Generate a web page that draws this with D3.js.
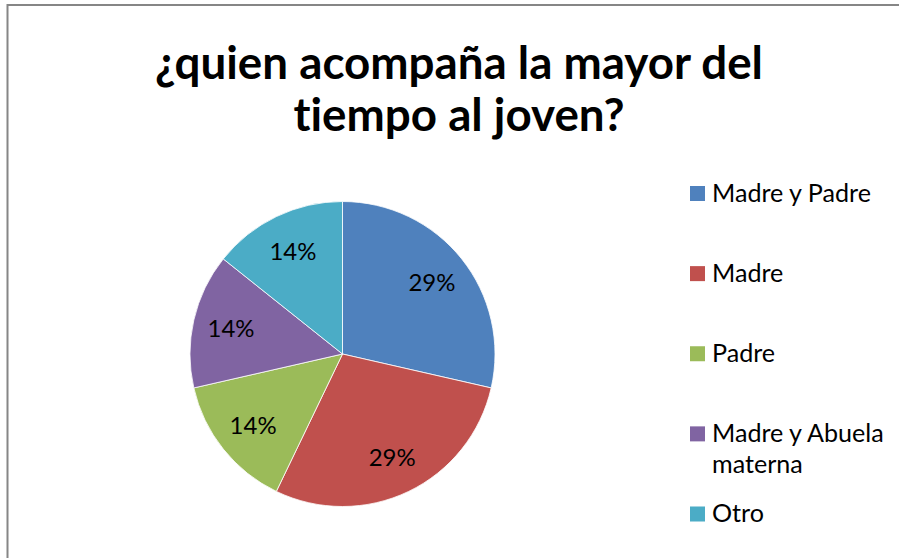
<!DOCTYPE html>
<html>
<head>
<meta charset="utf-8">
<script src="https://cdn.jsdelivr.net/npm/d3@7"></script>
<style>
  html, body { margin: 0; padding: 0; background: #fff; }
  svg { display: block; font-family: Lato, "Open Sans", sans-serif; font-variant-ligatures: none; }
</style>
</head>
<body>
<svg id="chart" width="899" height="558"></svg>
<script>
// data (2 + 2 + 1 + 1 + 1 = 7 answers)
const categories = ["Madre y Padre", "Madre", "Padre", "Madre y Abuela materna", "Otro"];
const legendLines = [["Madre y Padre"], ["Madre"], ["Padre"], ["Madre y Abuela", "materna"], ["Otro"]];
const counts = [2, 2, 1, 1, 1];
const colors = ["#4F81BD", "#C0504D", "#9BBB59", "#8064A2", "#4BACC6"];
const titleLines = ["¿quien acompaña la mayor del", "tiempo al joven?"];

const width = 899, height = 558;
const cx = 342.5, cy = 354, radius = 152.5;

const svg = d3.select("#chart");

// shrink/grow text so it spans the given width
function fitFont(sel, target) {
    sel.style("font-size", "100px");
    const w = sel.node().getComputedTextLength();
    sel.style("font-size", (100 * target / w) + "px");
}

// chart frame (only left and top edges show)
svg.append("rect")
    .attr("x", 7.5)
    .attr("y", 5)
    .attr("width", 905)
    .attr("height", 570)
    .attr("fill", "none")
    .attr("stroke", "#868686")
    .attr("stroke-width", 2);

// title
const title = svg.append("g");
title.selectAll("text")
    .data(titleLines)
    .join("text")
    .attr("x", 459)
    .attr("y", (d, i) => 79 + i * 52)
    .attr("text-anchor", "middle")
    .attr("font-weight", "bold")
    .attr("fill", "#000")
    .text(d => d)
    .each(function (d, i) {
        if (i == 0) fitFont(d3.select(this), 608);
    });
const titleSize = title.select("text").style("font-size");
title.selectAll("text").style("font-size", titleSize);

// pie
const color = d3.scaleOrdinal().domain(categories).range(colors);
const total = d3.sum(counts);
const pie = d3.pie().sort(null).value(d => d.v);
const arcs = pie(categories.map((c, i) => ({ c: c, v: counts[i] })));

const arc = d3.arc().innerRadius(0).outerRadius(radius);
const labelArc = d3.arc().innerRadius(radius * 0.75).outerRadius(radius * 0.75);
const pct = d3.format(".0%");

const g = svg.append("g").attr("transform", `translate(${cx},${cy})`);

g.selectAll("path")
    .data(arcs)
    .join("path")
    .attr("d", arc)
    .attr("fill", d => color(d.data.c))
    .attr("stroke", "#fff")
    .attr("stroke-width", 0.8);

const labels = g.selectAll("text")
    .data(arcs)
    .join("text")
    .attr("transform", d => `translate(${labelArc.centroid(d)})`)
    .attr("text-anchor", "middle")
    .attr("dy", "0.36em")
    .attr("fill", "#000")
    .text(d => pct(d.data.v / total));
fitFont(labels.filter((d, i) => i == 0), 47);
labels.style("font-size", labels.filter((d, i) => i == 0).style("font-size"));

// legend
const ly = d3.scalePoint().domain(categories).range([193.5, 514]);
const legend = svg.append("g")
    .selectAll("g")
    .data(categories)
    .join("g")
    .attr("transform", d => `translate(690,${ly(d)})`);

legend.append("rect")
    .attr("x", 0)
    .attr("y", -7.5)
    .attr("width", 15)
    .attr("height", 15)
    .attr("fill", d => color(d));

const ltext = legend.append("text")
    .attr("x", 22)
    .attr("y", 8)
    .attr("fill", "#000");
ltext.selectAll("tspan")
    .data((d, i) => legendLines[i])
    .join("tspan")
    .attr("x", 22)
    .attr("dy", (d, i) => i == 0 ? 0 : 31)
    .text(d => d);
fitFont(ltext.filter((d, i) => i == 0), 159);
ltext.style("font-size", ltext.filter((d, i) => i == 0).style("font-size"));
</script>
</body>
</html>
